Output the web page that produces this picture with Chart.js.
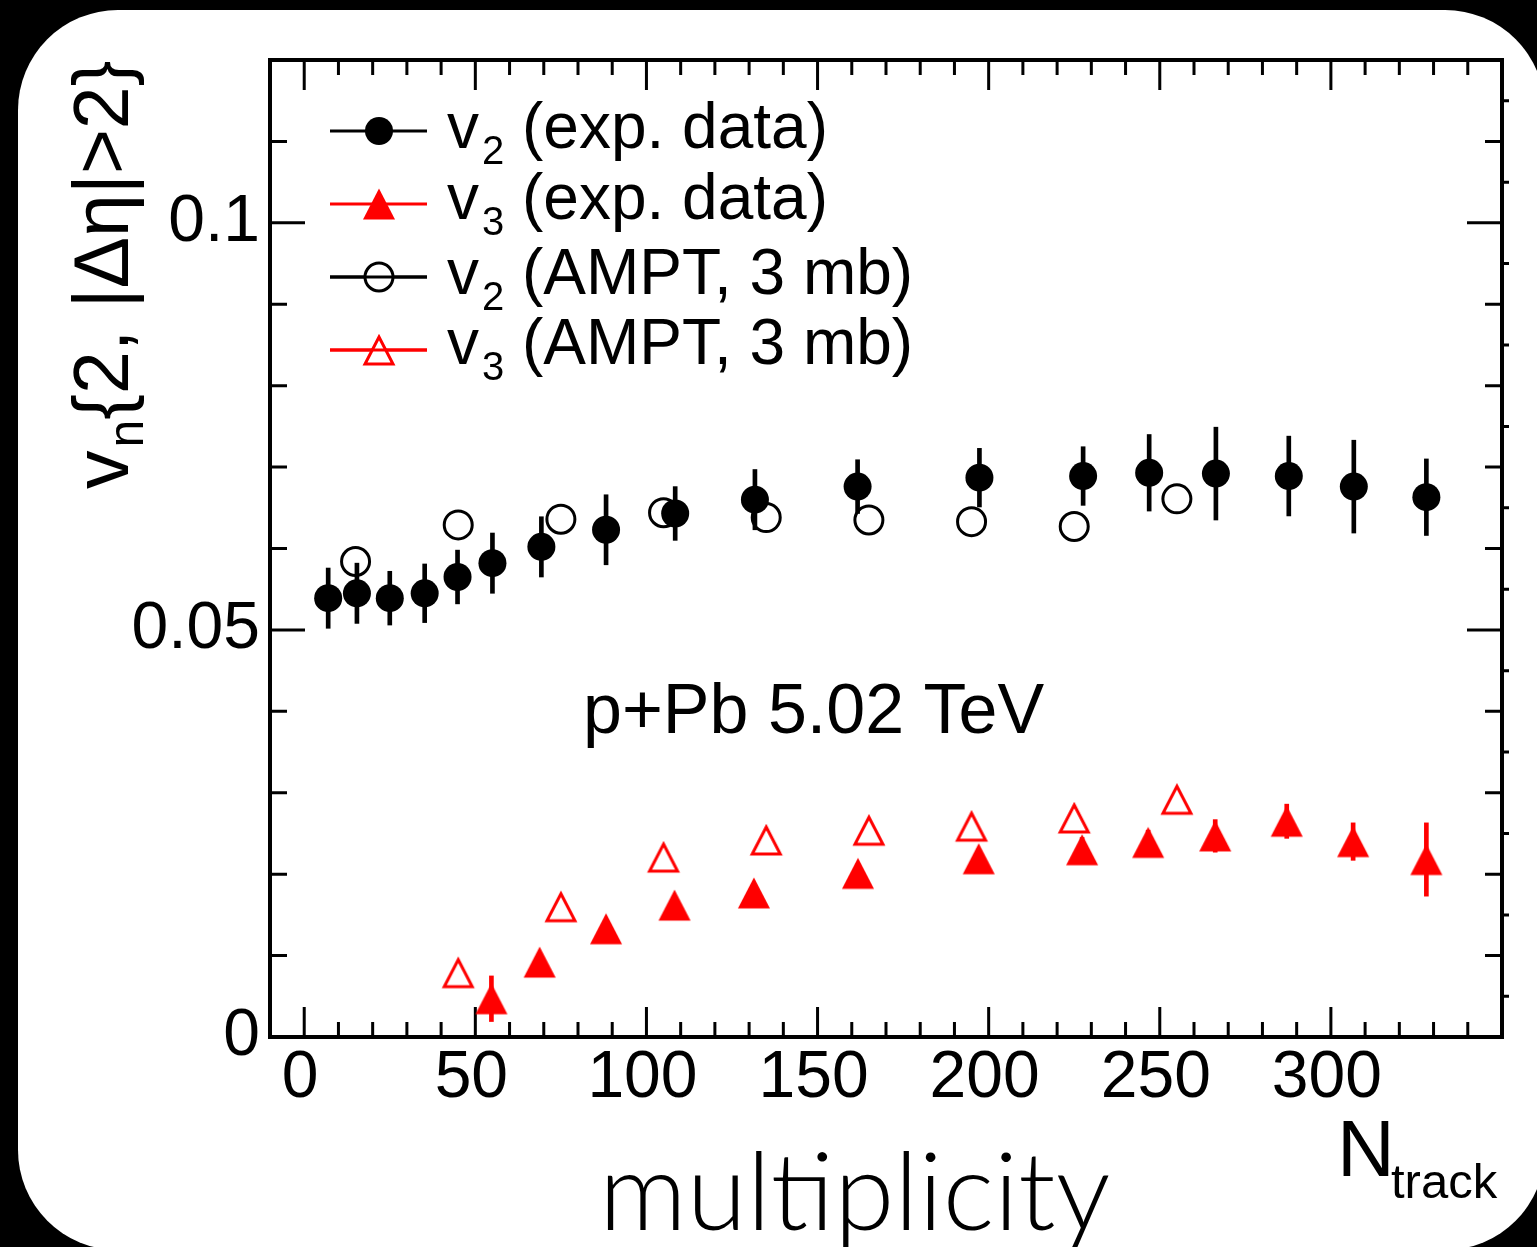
<!DOCTYPE html>
<html>
<head>
<meta charset="utf-8">
<script src="https://cdn.jsdelivr.net/npm/chart.js"></script>
<style>
  html, body { margin: 0; padding: 0; background: #000; overflow: hidden; }
  #card { position: absolute; left: 18px; top: 10px; width: 1527px; height: 1240px; background: #fff; border-radius: 100px; }
  #wrap { position: absolute; left: 0; top: 0; width: 1537px; height: 1247px; }
</style>
</head>
<body>
<div id="card"></div>
<div id="wrap"><canvas id="myChart" width="1537" height="1247"></canvas></div>
<script>
// v2 measured (filled circles)
const v2ExpN   = [7, 15.4, 25, 35.2, 44.8, 55, 69.3, 88.2, 108.4, 131.7, 161.7, 197.3, 227.6, 246.9, 266.4, 287.7, 306.7, 327.9];
const v2ExpVal = [0.0539, 0.0545, 0.0539, 0.0545, 0.0565, 0.0582, 0.0602, 0.0623, 0.0643, 0.0660, 0.0676, 0.0687, 0.0689, 0.0693, 0.0692, 0.0689, 0.0676, 0.0663];
const v2ExpErr = [0.0037, 0.0037, 0.0033, 0.0036, 0.0033, 0.0037, 0.0037, 0.0043, 0.0033, 0.0037, 0.0033, 0.0036, 0.0036, 0.0047, 0.0057, 0.0049, 0.0057, 0.0047];

// v3 measured (filled triangles)
const v3ExpN   = [54.7, 68.8, 88.2, 108.2, 131.4, 161.8, 197.1, 227.3, 246.6, 266.2, 287.1, 306.5, 327.9];
const v3ExpVal = [0.0047, 0.0092, 0.0133, 0.0162, 0.0177, 0.0201, 0.0219, 0.0230, 0.0239, 0.0247, 0.0265, 0.0240, 0.0218];
const v3ExpErr = [0.0028, 0.0010, 0.0010, 0.0010, 0.0010, 0.0012, 0.0012, 0.0015, 0.0015, 0.0020, 0.0021, 0.0023, 0.0045];

// AMPT 3 mb (open markers)
const amptN     = [15, 45, 75, 105, 135, 165, 195, 225, 255];
const v2AmptVal = [0.0584, 0.0629, 0.0636, 0.0644, 0.0638, 0.0635, 0.0633, 0.0627, 0.0661];
const v3AmptN   = [45, 75, 105, 135, 165, 195, 225, 255];
const v3AmptVal = [0.0079, 0.0160, 0.0221, 0.0242, 0.0254, 0.0259, 0.0269, 0.0292];

// axes
const xTickValues = [0, 50, 100, 150, 200, 250, 300];
const xTickLabels = ['0', '50', '100', '150', '200', '250', '300'];
const yTickValues = [0, 0.05, 0.1];
const yTickLabels = ['0', '0.05', '0.1'];

// legend text: main letter, subscript, rest
const legendSub  = ['2', '3', '2', '3'];
const legendRest = [' (exp. data)', ' (exp. data)', ' (AMPT, 3 mb)', ' (AMPT, 3 mb)'];

const FONT = '"Liberation Sans", Arial, Helvetica, sans-serif';
const RED = '#ff0000';

function makeTriangle(filled) {
    let c = document.createElement('canvas');
    c.width = 36; c.height = 36;
    let g = c.getContext('2d');
    g.beginPath();
    if (filled) {
        g.moveTo(18, 2.5); g.lineTo(34, 33.5); g.lineTo(2, 33.5);
        g.closePath();
        g.fillStyle = RED;
        g.fill();
    } else {
        g.moveTo(18, 5); g.lineTo(32, 32); g.lineTo(4, 32);
        g.closePath();
        g.lineWidth = 3;
        g.lineJoin = 'miter';
        g.strokeStyle = RED;
        g.stroke();
    }
    return c;
}
const triFilled = makeTriangle(true);
const triOpen = makeTriangle(false);

// ROOT style frame with inward ticks on all four sides
const framePlugin = {
    id: 'rootFrame',
    beforeDatasetsDraw(chart) {
        let {ctx, chartArea: a, scales: {x, y}} = chart;
        ctx.save();
        ctx.strokeStyle = '#000';
        ctx.lineWidth = 3;
        ctx.beginPath();
        for (let k = 0; k < 35; k++) {
            let px = x.getPixelForValue(k * 10);
            let len = k % 5 === 0 ? 30 : 15;
            ctx.moveTo(px, a.bottom); ctx.lineTo(px, a.bottom - len);
            ctx.moveTo(px, a.top); ctx.lineTo(px, a.top + len);
        }
        for (let k = 1; k < 12; k++) {
            let py = y.getPixelForValue(k / 100);
            let len = k % 5 === 0 ? 35 : 17;
            ctx.moveTo(a.left, py); ctx.lineTo(a.left + len, py);
            ctx.moveTo(a.right, py); ctx.lineTo(a.right - len, py);
        }
        for (let k = 0; k < 12; k++) {
            let py = y.getPixelForValue((k + 0.5) / 100);
            ctx.moveTo(a.right, py); ctx.lineTo(a.right + 7, py);
        }
        ctx.stroke();
        ctx.lineWidth = 4;
        ctx.strokeRect(a.left, a.top, a.right - a.left, a.bottom - a.top);
        ctx.restore();
    }
};

function drawSubText(ctx, x, y, main, sub, rest, size, subSize, subShift) {
    ctx.font = size + 'px ' + FONT;
    ctx.fillText(main, x, y);
    x += ctx.measureText(main).width + 3;
    ctx.font = subSize + 'px ' + FONT;
    ctx.fillText(sub, x, y + subShift);
    x += ctx.measureText(sub).width;
    ctx.font = size + 'px ' + FONT;
    ctx.fillText(rest, x, y);
}

const textPlugin = {
    id: 'rootText',
    afterDraw(chart) {
        let ctx = chart.ctx;
        ctx.save();
        ctx.fillStyle = '#000';
        ctx.textAlign = 'left';
        ctx.textBaseline = 'alphabetic';

        // legend
        let lineY = [131, 204, 277, 350];
        let baseY = [148, 219, 294, 364];
        let colors = ['#000', RED, '#000', RED];
        for (let i = 0; i < 4; i++) {
            ctx.strokeStyle = colors[i];
            ctx.lineWidth = 3;
            ctx.beginPath();
            ctx.moveTo(330, lineY[i]); ctx.lineTo(427, lineY[i]);
            ctx.stroke();
            if (i === 0) {
                ctx.fillStyle = '#000';
                ctx.beginPath(); ctx.arc(379, lineY[i], 14, 0, Math.PI * 2); ctx.fill();
            } else if (i === 2) {
                ctx.fillStyle = '#fff';
                ctx.beginPath(); ctx.arc(379, lineY[i], 14, 0, Math.PI * 2); ctx.fill();
                ctx.strokeStyle = '#000';
                ctx.beginPath(); ctx.arc(379, lineY[i], 14, 0, Math.PI * 2); ctx.stroke();
                ctx.beginPath(); ctx.moveTo(330, lineY[i]); ctx.lineTo(427, lineY[i]); ctx.stroke();
            } else {
                if (i === 3) {
                    ctx.fillStyle = '#fff';
                    ctx.beginPath(); ctx.moveTo(379, lineY[i] - 12); ctx.lineTo(392, lineY[i] + 13); ctx.lineTo(366, lineY[i] + 13); ctx.fill();
                    ctx.beginPath(); ctx.moveTo(330, lineY[i]); ctx.lineTo(427, lineY[i]); ctx.stroke();
                }
                ctx.drawImage(i === 1 ? triFilled : triOpen, 379 - 18, lineY[i] - 18);
            }
            ctx.fillStyle = '#000';
            drawSubText(ctx, 447, baseY[i], 'v', legendSub[i], legendRest[i], 64, 40, 16);
        }

        // collision system label
        ctx.font = '70px ' + FONT;
        ctx.fillText('p+Pb 5.02 TeV', 583, 733);

        // x axis title
        ctx.font = '80px ' + FONT;
        ctx.fillText('N', 1337, 1176);
        ctx.font = '49px ' + FONT;
        ctx.fillText('track', 1391, 1198);

        ctx.font = '300 109px Lato, "Open Sans", sans-serif';
        ctx.fillText('multiplicity', 599, 1230);

        // y axis title, rotated
        ctx.translate(128, 489);
        ctx.rotate(-Math.PI / 2);
        drawSubText(ctx, 0, 0, 'v', 'n', '{2, |\u0394\u03B7|>2}', 77, 50, 15);
        ctx.restore();
    }
};

let ctx = document.getElementById('myChart').getContext('2d');
new Chart(ctx, {
    type: 'scatter',
    data: {
        datasets: [
            {
                label: 'v2 (exp. data)',
                data: v2ExpN.map((n, i) => ({x: n, y: v2ExpVal[i]})),
                pointRadius: 14,
                pointBackgroundColor: '#000',
                pointBorderWidth: 0
            },
            {
                label: 'v3 (exp. data)',
                data: v3ExpN.map((n, i) => ({x: n, y: v3ExpVal[i]})),
                pointStyle: triFilled,
                pointRadius: 16
            },
            {
                label: 'v2 (AMPT, 3 mb)',
                data: amptN.map((n, i) => ({x: n, y: v2AmptVal[i]})),
                pointRadius: 14,
                pointBackgroundColor: 'rgba(0,0,0,0)',
                pointBorderColor: '#000',
                pointBorderWidth: 3
            },
            {
                label: 'v3 (AMPT, 3 mb)',
                data: v3AmptN.map((n, i) => ({x: n, y: v3AmptVal[i]})),
                pointStyle: triOpen,
                pointRadius: 16
            },
            {
                type: 'bar',
                label: 'v2 errors',
                data: v2ExpN.map((n, i) => ({x: n, y: [v2ExpVal[i] - v2ExpErr[i], v2ExpVal[i] + v2ExpErr[i]]})),
                backgroundColor: '#000',
                borderWidth: 0,
                barThickness: 4,
                grouped: false
            },
            {
                type: 'bar',
                label: 'v3 errors',
                data: v3ExpN.map((n, i) => ({x: n, y: [v3ExpVal[i] - v3ExpErr[i], v3ExpVal[i] + v3ExpErr[i]]})),
                backgroundColor: RED,
                borderWidth: 0,
                barThickness: 4,
                grouped: false
            }
        ]
    },
    options: {
        responsive: false,
        animation: false,
        events: [],
        layout: { padding: { top: 60, right: 35, left: 0, bottom: 0 } },
        plugins: { legend: { display: false }, tooltip: { enabled: false } },
        scales: {
            x: {
                type: 'linear',
                min: -10,
                max: 350,
                offset: false,
                grid: { display: false, drawTicks: false, offset: false },
                border: { display: false },
                ticks: {
                    color: '#000',
                    font: { family: FONT, size: 66 },
                    padding: 2,
                    labelOffset: -4,
                    maxRotation: 0,
                    autoSkip: false,
                    callback: (v, i) => xTickLabels[i]
                },
                afterBuildTicks: s => { s.ticks = xTickValues.map(v => ({value: v})); },
                afterFit: s => { s.height = 210; }
            },
            y: {
                type: 'linear',
                min: 0,
                max: 0.12,
                grid: { display: false, drawTicks: false },
                border: { display: false },
                ticks: {
                    color: '#000',
                    font: { family: FONT, size: 66 },
                    padding: 10,
                    autoSkip: false,
                    callback: (v, i) => yTickLabels[i]
                },
                afterBuildTicks: s => { s.ticks = yTickValues.map(v => ({value: v})); },
                afterFit: s => { s.width = 270; }
            }
        }
    },
    plugins: [framePlugin, textPlugin]
});
</script>
</body>
</html>
